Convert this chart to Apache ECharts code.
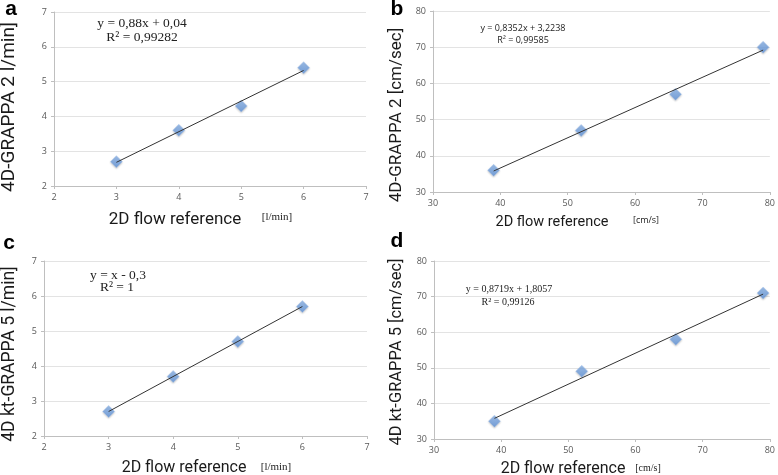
<!DOCTYPE html>
<html><head><meta charset="utf-8">
<script src="https://cdn.jsdelivr.net/npm/echarts@6/dist/echarts.min.js"></script>
<style>html,body{margin:0;padding:0;background:#fff}#c{width:778px;height:475px}</style>
</head><body><div id="c"></div>
<script>
// Panel a: 4D-GRAPPA 2 flow [l/min]
const aX = [3, 4, 5, 6];
const aY = [2.7, 3.6, 4.3, 5.4];
const aTrend = [[3, 2.68], [6, 5.32]];
// Panel b: 4D-GRAPPA 2 velocity [cm/s]
const bX = [39, 52, 66, 79];
const bY = [36, 47, 57, 70];
const bTrend = [[39, 35.8], [79, 69.2]];
// Panel c: 4D kt-GRAPPA 5 flow [l/min]
const cX = [3, 4, 5, 6];
const cY = [2.7, 3.7, 4.7, 5.7];
const cTrend = [[3, 2.7], [6, 5.7]];
// Panel d: 4D kt-GRAPPA 5 velocity [cm/s]
const dX = [39, 52, 66, 79];
const dY = [35, 49, 58, 71];
const dTrend = [[39, 35.8], [79, 70.7]];
// axis ranges
const flowRange = {min: 2, max: 7, interval: 1};
const velRange = {min: 30, max: 80, interval: 10};

const chart = echarts.init(document.getElementById('c'));
const grids = [
  {left: 54, top: 12, width: 312, height: 174},
  {left: 433, top: 11, width: 340, height: 181},
  {left: 44, top: 261, width: 323, height: 175},
  {left: 434, top: 261, width: 339, height: 178}
];
const ranges = [flowRange, velRange, flowRange, velRange];
const axisCommon = {
  axisLine: {show: true, lineStyle: {color: '#bfbfbf', width: 1}},
  axisTick: {show: true, length: 3, lineStyle: {color: '#bfbfbf'}},
  axisLabel: {color: '#595959', fontSize: 9, fontFamily: 'Open Sans', margin: 7}
};
const xAxis = ranges.map((r, i) => Object.assign({type: 'value', gridIndex: i, min: r.min, max: r.max, interval: r.interval,
  splitLine: {show: false}}, axisCommon));
const yAxis = ranges.map((r, i) => Object.assign({type: 'value', gridIndex: i, min: r.min, max: r.max, interval: r.interval,
  splitLine: {show: true, lineStyle: {color: '#e3e3e3', width: 1}}}, axisCommon));

const pts = (xs, ys) => xs.map((x, i) => [x, ys[i]]);
const markerStyle = {
  color: new echarts.graphic.LinearGradient(0, 0, 0, 1, [{offset: 0, color: '#8db6ea'}, {offset: 1, color: '#5b8fd6'}]),
  borderColor: '#a9c6ee', borderWidth: 0.5,
  shadowColor: 'rgba(0,0,0,0.25)', shadowBlur: 2, shadowOffsetY: 1
};
const sets = [[aX, aY, aTrend], [bX, bY, bTrend], [cX, cY, cTrend], [dX, dY, dTrend]];
const series = [];
sets.forEach((s, i) => {
  series.push({type: 'line', xAxisIndex: i, yAxisIndex: i, data: s[2], symbol: 'none',
    lineStyle: {color: '#333', width: 1}, silent: true, z: 3});
  series.push({type: 'scatter', xAxisIndex: i, yAxisIndex: i, data: pts(s[0], s[1]), symbol: 'diamond',
    symbolSize: [12, 12], itemStyle: markerStyle, z: 2});
});

function txt(x, y, text, font, opts) {
  return Object.assign({type: 'text', x: x, y: y, style: Object.assign({text: text, fill: '#222',
    font: font, align: 'center', verticalAlign: 'middle'}, opts && opts.style || {})},
    opts && opts.rotation !== undefined ? {rotation: opts.rotation} : {});
}
const serif = '"Liberation Serif", serif';
const sans = '"Open Sans", sans-serif';
const tf = 'Roboto, sans-serif';
const dark = {style: {fill: '#1a1a1a'}};
const rot = (o) => Object.assign({rotation: Math.PI / 2}, dark);
const graphic = [
  txt(11, 9, 'a', 'bold 21px "Liberation Sans"', {style: {fill: '#000'}}),
  txt(397, 9, 'b', 'bold 21px "Liberation Sans"', {style: {fill: '#000'}}),
  txt(9, 243, 'c', 'bold 21px "Liberation Sans"', {style: {fill: '#000'}}),
  txt(397, 241, 'd', 'bold 21px "Liberation Sans"', {style: {fill: '#000'}}),
  // equations
  txt(142, 23, 'y = 0,88x + 0,04', '13.5px ' + serif),
  txt(142, 37, 'R² = 0,99282', '13.5px ' + serif),
  txt(523, 28, 'y = 0,8352x + 3,2238', '9px ' + sans),
  txt(523, 40, 'R² = 0,99585', '9px ' + sans),
  txt(118, 275, 'y = x - 0,3', '13.5px ' + serif),
  txt(117, 287, 'R² = 1', '13.5px ' + serif),
  txt(509, 289, 'y = 0,8719x + 1,8057', '10px ' + serif),
  txt(508, 302, 'R² = 0,99126', '10px ' + serif),
  // x titles
  txt(175, 220, '2D flow reference', '17px ' + tf, dark),
  txt(277, 217, '[l/min]', '11px ' + serif),
  txt(552, 222, '2D flow reference', '14.5px ' + tf, dark),
  txt(646, 220, '[cm/s]', '9px ' + sans),
  txt(184, 468, '2D flow reference', '16px ' + tf, dark),
  txt(276, 467, '[l/min]', '11px ' + serif),
  txt(563, 469, '2D flow reference', '16px ' + tf, dark),
  txt(648, 468, '[cm/s]', '10px ' + serif),
  // y titles
  txt(9, 107, '4D-GRAPPA 2 l/min]', '19px ' + tf, rot()),
  txt(397, 115, '4D-GRAPPA 2 [cm/sec]', '17px ' + tf, rot()),
  txt(10, 354, '4D kt-GRAPPA 5 l/min]', '17.5px ' + tf, rot()),
  txt(397, 352, '4D kt-GRAPPA 5 [cm/sec]', '16.5px ' + tf, rot())
];

chart.setOption({
  animation: false,
  grid: grids,
  xAxis: xAxis,
  yAxis: yAxis,
  series: series,
  graphic: graphic
});
</script></body></html>
